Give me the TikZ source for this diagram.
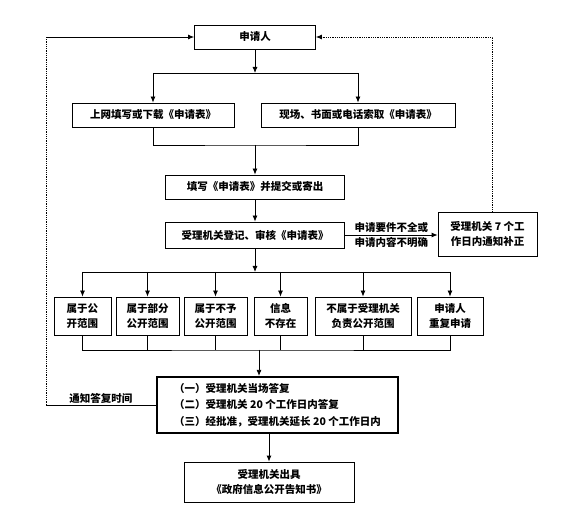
\documentclass[tikz,border=0pt]{standalone}
\usepackage{fontspec}
\newfontfamily\cjk{Noto Sans CJK SC}
\usetikzlibrary{arrows.meta, calc}

\tikzset{
    box/.style={draw, line width=0.8pt, inner sep=2pt, align=center},
    kind/.style={box, minimum height=38pt},
    bigbox/.style={draw, line width=2.2pt, inner sep=2pt, align=left,
        font=\cjk\bfseries\fontsize{10.5}{16.5}\selectfont},
    lbl/.style={inner sep=1.5pt}
}

\begin{document}
\begin{tikzpicture}[x=1pt, y=-1pt, line width=0.8pt,
        >={Latex[length=6pt, width=5pt]},
        font=\cjk\bfseries\fontsize{10.5}{15}\selectfont]
    \useasboundingbox (0,0) rectangle (563,513);

    \node[box, minimum width=121pt, minimum height=24pt] (applicant) at (255,37) {申请人};
    \node[box, minimum width=162pt, minimum height=24pt] (online) at (153,115) {上网填写或下载《申请表》};
    \node[box, minimum width=194pt, minimum height=24pt] (onsite) at (358,115) {现场、书面或电话索取《申请表》};
    \node[box, minimum width=179pt, minimum height=24pt] (fill) at (255,187) {填写《申请表》并提交或寄出};
    \node[box, minimum width=179pt, minimum height=26pt] (register) at (255,235) {受理机关登记、审核《申请表》};
    \node[box, minimum width=99pt, minimum height=44pt] (notify) at (487.5,234) {受理机关 7 个工\\作日内通知补正};

    \node[kind, minimum width=57pt] (b1) at (82.5,316) {属于公\\开范围};
    \node[kind, minimum width=63pt] (b2) at (147.5,316) {属于部分\\公开范围};
    \node[kind, minimum width=63pt] (b3) at (215.5,316) {属于不予\\公开范围};
    \node[kind, minimum width=53pt] (b4) at (280.5,316) {信息\\不存在};
    \node[kind, minimum width=96pt] (b5) at (363,316) {不属于受理机关\\负责公开范围};
    \node[kind, minimum width=66pt] (b6) at (450,316) {申请人\\重复申请};

    \node[bigbox, minimum width=241pt, minimum height=56pt] (reply) at (277.5,405)
        {（一）受理机关当场答复\\（二）受理机关 20 个工作日内答复\\（三）经批准，受理机关延长 20 个工作日内};
    \node[box, minimum width=170pt, minimum height=40pt] (notice) at (269,482) {受理机关出具\\《政府信息公开告知书》};

    \coordinate (split1) at (255,73);
    \coordinate (join1) at (255,145);
    \coordinate (split2) at (255,272);
    \coordinate (join2) at (259,350);
    \coordinate (bend) at (46,405);
    \coordinate (corner) at (46,37);

    % applicant -> two ways of getting the form
    \draw[->] (applicant) -- (split1);
    \draw (online |- split1) -- (onsite |- split1);
    \draw[->] (online |- split1) -- (online);
    \draw[->] (onsite |- split1) -- (onsite);
    \draw (online) |- (join1) -| (onsite);
    \draw[->] (join1) -- (fill);
    \draw[->] (fill) -- (register);

    % incomplete request
    \draw[->] (register.east) -- (register.east -| notify.west)
        node[lbl, midway, above] {申请要件不全或}
        node[lbl, midway, below] {申请内容不明确};
    \draw[densely dotted, ->] ([xshift=5pt]notify.north) |- (applicant);

    % six kinds of request
    \draw[->] (register) -- (split2);
    \draw (b1 |- split2) -- (b6 |- split2);
    \foreach \k in {b1,b2,b3,b4,b5,b6}
        \draw[->] (\k |- split2) -- (\k);
    \draw (b1) |- (join2) -| (b6);
    \foreach \k in {b2,b3,b4,b5}
        \draw (\k) -- (\k |- join2);
    \draw[->] (join2) -- (join2 |- reply.north);

    % answer
    \draw[->] (notice |- reply.south) -- (notice);
    \draw (reply.west) -- node[lbl, above] {通知答复时间} (bend);
    \draw[densely dotted] (bend) -- (corner);
    \draw[->] (corner) -- (applicant);
\end{tikzpicture}
\end{document}
